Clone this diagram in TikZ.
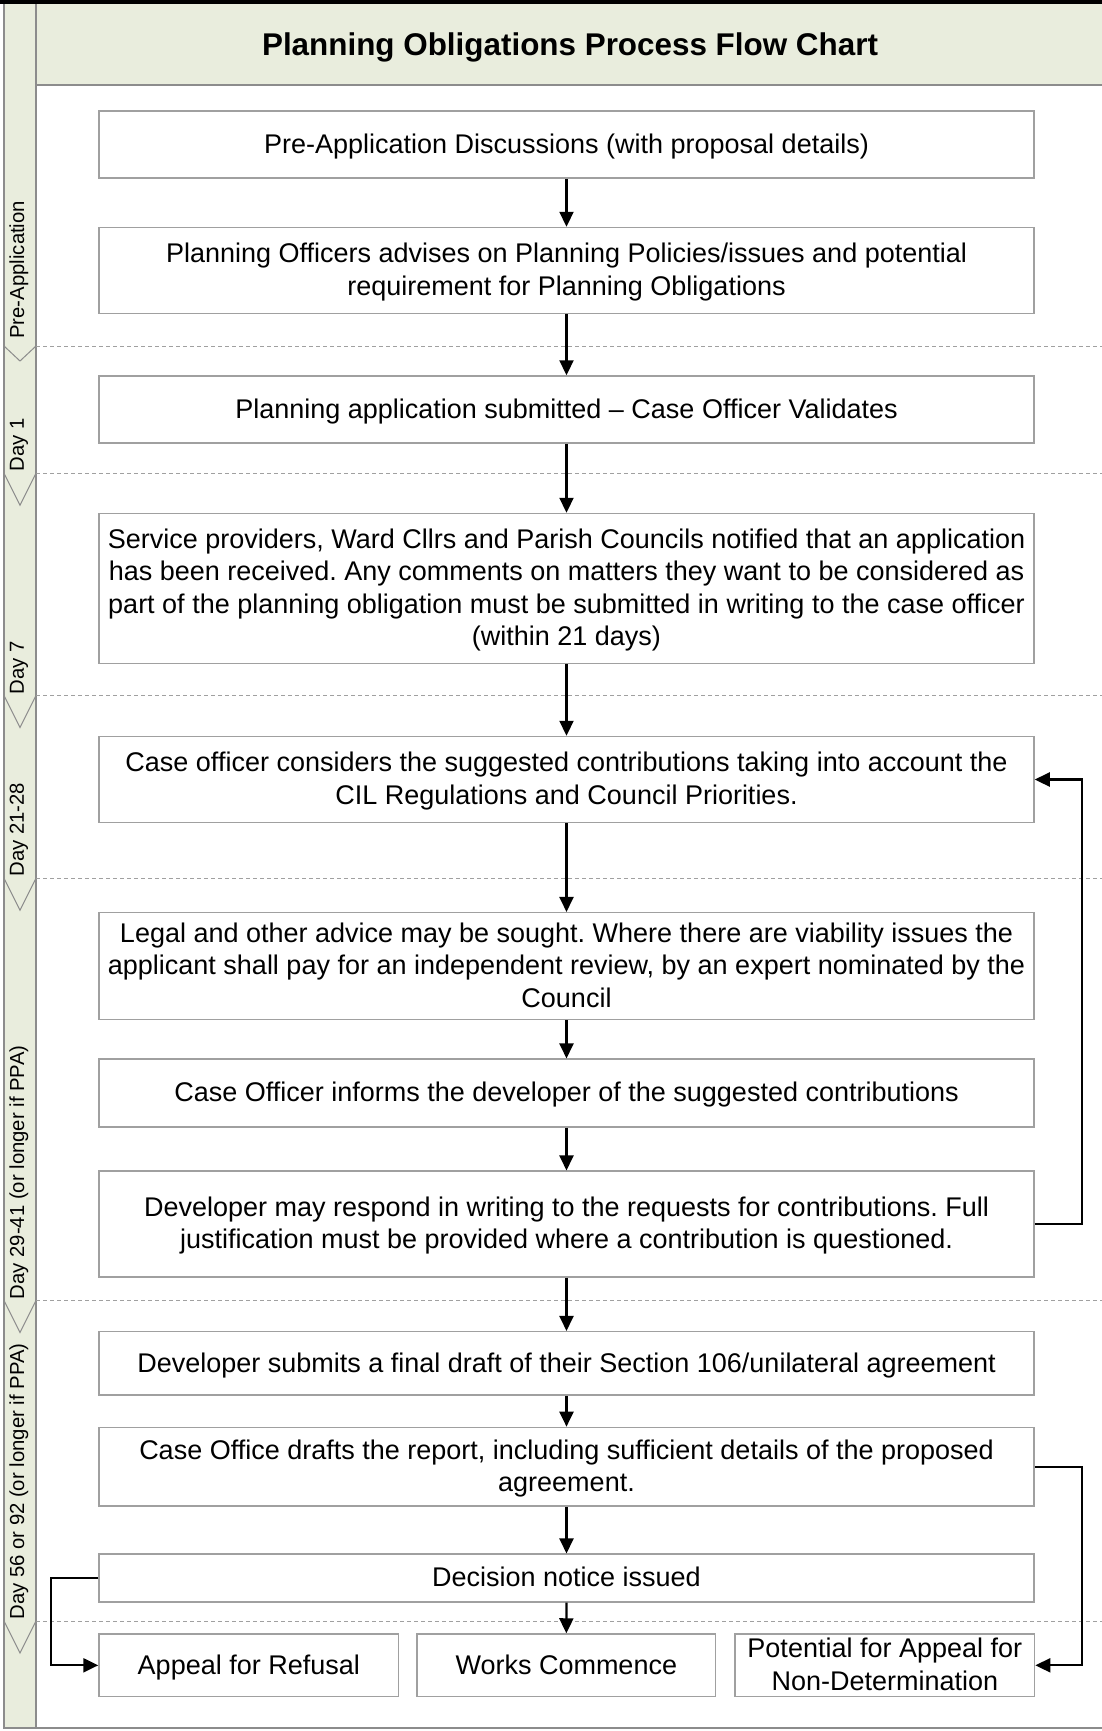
\documentclass[tikz,border=0pt]{standalone}
\usepackage{fontspec}
\setmainfont{Liberation Sans}
\usetikzlibrary{arrows.meta}
\definecolor{lane}{RGB}{233,237,221}
\definecolor{boxline}{RGB}{160,160,160}
\definecolor{laneline}{RGB}{140,140,140}
\frenchspacing
\begin{document}
\begin{tikzpicture}[x=0.5pt,y=-0.5pt,
  box/.style={draw=boxline, line width=0.75pt, fill=white, align=center,
    font=\fontsize{13.5}{16.2}\selectfont, inner sep=0pt, text depth=1.1pt, minimum width=467.5pt},
  sbox/.style={box, minimum width=149.8pt, minimum height=31.3pt},
  arr/.style={-{Triangle[length=7.5pt,width=7pt]}, line width=1.1pt, black},
  sep/.style={draw=boxline, line width=0.5pt, dash pattern=on 2pt off 1.5pt},
  lanelab/.style={rotate=90, anchor=west, inner sep=0pt, font=\fontsize{10.15}{12}\selectfont},
  chev/.style={draw=laneline, line width=0.5pt}]
\useasboundingbox (0,0) rectangle (1102,1731);
\fill[white] (0,0) rectangle (1102,1731);
% frame and lanes
\fill[lane] (4,4) rectangle (36,1728);
\fill[lane] (36,4) rectangle (1102,85);
\fill[black] (0,0) rectangle (1102,4);
\draw[laneline, line width=0.6pt] (4,4) -- (4,1728) -- (1102,1728);
\draw[laneline, line width=0.6pt] (36,4) -- (36,1728);
\draw[laneline, line width=0.6pt] (36,85) -- (1102,85);
\node[font=\bfseries\fontsize{15.7}{18}\selectfont] (title) at (570,47.5) {Planning Obligations Process Flow Chart};
% separators
\foreach \d in {346,473.3,695.6,878.3,1300.5,1621}{
  \draw[sep] (36,\d) -- (1102,\d);
}
\draw[chev] (4,346) -- (20,361) -- (36,346);
\foreach \d in {473.3,695.6,878.3,1300.5,1621}{
  \draw[chev] (4,\d) -- (20,\d+32) -- (36,\d);
}
% lane labels
\node[lanelab] (l1) at (19,339) {Pre-Application};
\node[lanelab] (l2) at (19,472) {Day 1};
\node[lanelab] (l3) at (19,694.5) {Day 7};
\node[lanelab] (l4) at (19,877) {Day 21-28};
\node[lanelab] (l5) at (19,1299.5) {Day 29-41 (or longer if PPA)};
\node[lanelab] (l6) at (19,1620) {Day 56 or 92 (or longer if PPA)};
% boxes
\node[box, minimum height=33.5pt] (b1) at (566.5,144.5) {Pre-Application Discussions (with proposal details)};
\node[box, minimum height=43pt] (b2) at (566.5,270.5) {Planning Officers advises on Planning Policies/issues and potential\\requirement for Planning Obligations};
\node[box, minimum height=33.5pt] (b3) at (566.5,409.5) {Planning application submitted – Case Officer Validates};
\node[box, minimum height=75pt] (b4) at (566.5,588.5) {Service providers, Ward Cllrs and Parish Councils notified that an application\\has been received. Any comments on matters they want to be considered as\\part of the planning obligation must be submitted in writing to the case officer\\(within 21 days)};
\node[box, minimum height=43pt] (b5) at (566.5,779.5) {Case officer considers the suggested contributions taking into account the\\CIL Regulations and Council Priorities.};
\node[box, minimum height=53.3pt] (b6) at (566.5,966) {Legal and other advice may be sought. Where there are viability issues the\\applicant shall pay for an independent review, by an expert nominated by the\\Council};
\node[box, minimum height=33.8pt] (b7) at (566.5,1093) {Case Officer informs the developer of the suggested contributions};
\node[box, minimum height=52.8pt] (b8) at (566.5,1224) {Developer may respond in writing to the requests for contributions. Full\\justification must be provided where a contribution is questioned.};
\node[box, minimum height=31.7pt] (b9) at (566.5,1363.4) {Developer submits a final draft of their Section 106/unilateral agreement};
\node[box, minimum height=39.3pt] (b10) at (566.5,1466.7) {Case Office drafts the report, including sufficient details of the proposed\\agreement.};
\node[box, minimum height=23.8pt] (b11) at (566.5,1578) {Decision notice issued};
\node[sbox] (b12a) at (248.8,1665.3) {Appeal for Refusal};
\node[sbox, minimum width=149.25pt] (b12b) at (566.3,1665.3) {Works Commence};
\node[sbox] (b12c) at (884.8,1665.3) {Potential for Appeal for\\Non-Determination};
% arrows
\draw[arr] (b1.south) -- (b2.north);
\draw[arr] (b2.south) -- (b3.north);
\draw[arr] (b3.south) -- (b4.north);
\draw[arr] (b4.south) -- (b5.north);
\draw[arr] (b5.south) -- (b6.north);
\draw[arr] (b6.south) -- (b7.north);
\draw[arr] (b7.south) -- (b8.north);
\draw[arr] (b8.south) -- (b9.north);
\draw[arr] (b9.south) -- (b10.north);
\draw[arr] (b10.south) -- (b11.north);
\draw[arr] (b11.south) -- (b12b.north);
\draw[arr] (b8.east) -- ++(47.5,0) |- (b5.east);
\draw[arr] (b10.east) -- ++(47.5,0) |- (b12c.east);
\draw[arr] (b11.west) -- ++(-47,0) |- (b12a.west);
\end{tikzpicture}
\end{document}
